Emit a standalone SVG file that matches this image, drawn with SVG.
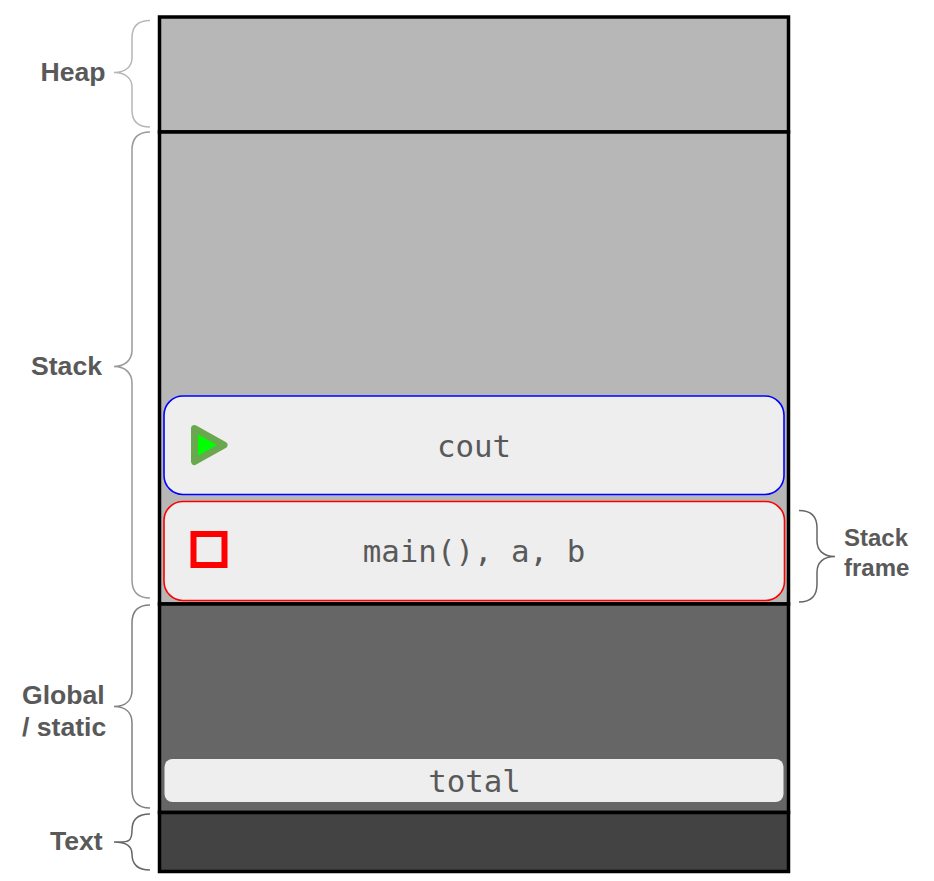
<svg xmlns="http://www.w3.org/2000/svg" width="934" height="881" viewBox="0 0 934 881">
<style>
.seg{stroke:#000;stroke-width:3.500}
.lbl{font:bold 26.600px "Liberation Sans",Arial,sans-serif;fill:#595959}
.sm{font-size:24px}
.code{font:30.800px "DejaVu Sans Mono","Liberation Mono",monospace;fill:#595959;text-anchor:middle}
.frame{fill:#eee;stroke-width:1.600}
.br{fill:none;stroke-width:1.500}
</style>
<rect width="934" height="881" fill="#fff"/>
<g id="heap"><rect class="seg" x="159.500" y="17" width="629" height="115" fill="#b7b7b7"/></g>
<g id="stack"><rect class="seg" x="159.500" y="132" width="629" height="472" fill="#b7b7b7"/></g>
<g id="global"><rect class="seg" x="159.500" y="604" width="629" height="208.500" fill="#666"/></g>
<g id="text-seg"><rect class="seg" x="159.500" y="812.500" width="629" height="59" fill="#434343"/></g>
<g id="frame-cout"><rect class="frame" x="164" y="396" width="620" height="98.500" rx="19" stroke="#00f"/>
<path d="M194.500 428.500L224 445L194.500 461.500Z" fill="#0f0" stroke="#6aa84f" stroke-width="7" stroke-linejoin="round"/>
<text class="code" x="474" y="457">cout</text></g>
<g id="frame-main"><rect class="frame" x="164" y="501.500" width="620.500" height="99" rx="19" stroke="#f00"/>
<rect x="193.500" y="534" width="31" height="31" fill="none" stroke="#f00" stroke-width="6"/>
<text class="code" x="474" y="562">main(), a, b</text></g>
<g id="var-total"><rect x="164.500" y="759" width="619" height="43" rx="8" fill="#eee"/>
<text class="code" x="474.500" y="792">total</text></g>
<g id="connectors">
<path class="br" stroke="#b7b7b7" d="M150 20.500C138 20.500 132 26 132 38V58C132 66 126 72.500 114 72.500C126 72.500 132 79 132 87V110C132 121 138 127 150 127"/>
<path class="br" stroke="#999" d="M150 132C138 132 132 138 132 150V350C132 359 126 366.500 114 366.500C126 366.500 132 374 132 383V580C132 592 138 598 150 598"/>
<path class="br" stroke="#808080" d="M150 605C138 605 132 611 132 623V690C132 700 126 706.500 114 706.500C126 706.500 132 713 132 723V790C132 802 138 808 150 808"/>
<path class="br" stroke="#666" d="M150 814C138 814 132 820 132 830C132 844 126 842 114 842C126 842 132 846 132 854C132 864 138 870 150 870"/>
<path class="br" stroke="#666" d="M799 510.500C811 510.500 817 516 817 528V541C817 550 823 556.500 835 556.500C823 556.500 817 563 817 572V584C817 596 811 602 799 602"/>
</g>
<g id="label-heap"><text class="lbl" x="40.500" y="81">Heap</text></g>
<g id="label-stack"><text class="lbl" x="31" y="375">Stack</text></g>
<g id="label-global"><text class="lbl" x="22" y="704">Global</text><text class="lbl" x="22" y="736">/ static</text></g>
<g id="label-text"><text class="lbl" x="50" y="850">Text</text></g>
<g id="label-frame"><text class="lbl sm" x="844" y="546">Stack</text><text class="lbl sm" x="844" y="576">frame</text></g>
</svg>
